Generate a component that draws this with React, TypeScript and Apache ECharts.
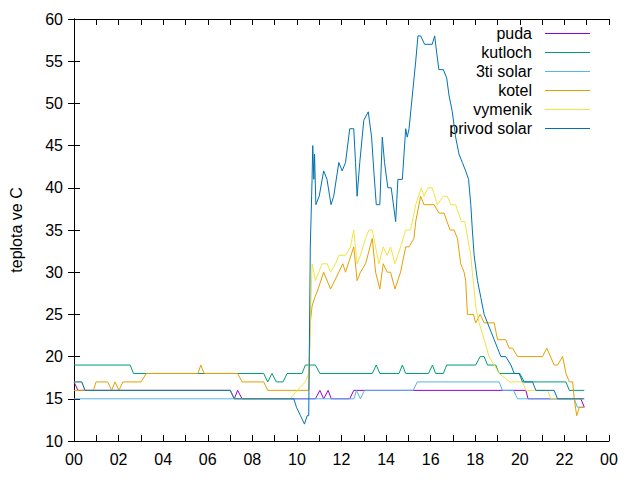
import React, { useEffect, useRef } from "react";
import * as echarts from "echarts";

// hour of day -> temperature (°C)
const puda: number[][] = [
  [0, 17], [0.18, 16], [7.01, 16], [7.19, 15], [7.34, 16], [7.54, 15], [10.83, 15], [11.03, 16], [11.2, 15],
  [11.4, 16], [11.54, 15], [12.37, 15], [12.55, 16], [20.27, 16], [20.37, 15], [22.74, 15], [22.89, 14],
];
const kutloch: number[][] = [
  [0, 19], [2.52, 19], [2.67, 18], [8.51, 18], [8.69, 17], [8.88, 18], [9.08, 17], [9.38, 17], [9.56, 18],
  [10.23, 18], [10.38, 19], [10.83, 19], [11.03, 18], [13.38, 18], [13.56, 19], [13.72, 18], [14.58, 18],
  [14.73, 19], [14.88, 18], [15.9, 18], [16.08, 19], [16.22, 18], [16.57, 18], [16.72, 19], [18.02, 19],
  [18.22, 20], [18.4, 20], [18.55, 19], [18.92, 19], [19.07, 18], [20.0, 18], [20.2, 17], [22.07, 17],
  [22.22, 16], [22.89, 16],
];
const tretiSolar: number[][] = [
  [0, 15], [12.56, 15], [12.67, 16], [12.85, 15], [13.03, 16], [15.22, 16], [15.4, 17], [19.07, 17],
  [19.22, 16], [19.71, 16], [19.9, 15], [22.44, 15], [22.58, 14], [22.89, 14],
];
const kotel: number[][] = [
  [0, 16], [0.87, 16], [0.99, 17], [1.51, 17], [1.69, 16], [1.84, 17], [2.02, 16], [2.19, 17], [3.01, 17],
  [3.24, 18], [5.56, 18], [5.69, 19], [5.84, 18], [7.34, 18], [7.54, 17], [8.51, 17], [8.69, 16], [10.53, 16],
  [10.6, 24], [10.68, 26], [10.8, 27], [10.95, 28], [11.2, 30], [11.51, 28], [12.06, 31], [12.18, 30],
  [12.55, 33], [12.7, 29], [12.85, 30], [13.08, 31], [13.38, 34], [13.53, 30], [13.72, 28], [13.87, 31],
  [14.05, 30], [14.2, 30], [14.4, 28], [14.65, 30], [14.88, 33], [15.03, 33], [15.25, 34], [15.33, 36],
  [15.55, 39], [15.7, 38], [16.15, 38], [16.37, 37], [16.6, 37], [16.87, 35], [17.05, 35], [17.2, 34],
  [17.35, 31], [17.5, 30], [17.57, 29], [17.65, 25], [17.92, 25], [18.02, 24], [18.22, 25], [18.4, 24],
  [18.85, 24], [19.0, 22], [19.37, 22], [19.52, 21], [19.67, 21], [19.9, 20], [21.02, 20], [21.21, 21],
  [21.54, 19], [21.69, 19], [21.92, 20], [22.07, 18], [22.22, 17], [22.37, 17], [22.44, 15], [22.55, 13],
  [22.67, 14], [22.89, 14],
];
const vymenik: number[][] = [
  [0, 17], [0.35, 17], [0.49, 16], [7.01, 16], [7.19, 15], [9.71, 15], [10.01, 16], [10.38, 17], [10.53, 18],
  [10.6, 24], [10.68, 31], [10.83, 29], [10.98, 30], [11.13, 31], [11.36, 31], [11.51, 30], [11.73, 31],
  [11.88, 32], [12.18, 32], [12.4, 33], [12.55, 35], [12.7, 31], [12.85, 32], [13.08, 34], [13.23, 35],
  [13.38, 35], [13.53, 33], [13.68, 31], [13.87, 33], [14.05, 32], [14.2, 33], [14.4, 31], [14.65, 33],
  [14.88, 35], [15.1, 35], [15.33, 38], [15.58, 40], [15.7, 39], [15.88, 40], [16.07, 40], [16.3, 38],
  [16.57, 39], [16.75, 39], [16.9, 38], [17.12, 38], [17.38, 36], [17.53, 36], [17.8, 32], [17.87, 30],
  [18.02, 26], [18.17, 24], [18.4, 22], [18.62, 20], [18.85, 19], [19.07, 18], [19.56, 17], [20.12, 17],
  [20.27, 16], [21.24, 16], [21.39, 15], [22.89, 15],
];
const privodSolar: number[][] = [
  [0, 17], [0.35, 17], [0.49, 16], [7.01, 16], [7.19, 15], [9.86, 15], [9.98, 14], [10.16, 13], [10.34, 12],
  [10.46, 13], [10.53, 13], [10.6, 33], [10.68, 41], [10.71, 45], [10.76, 41], [10.79, 44], [10.85, 38],
  [11.0, 39], [11.2, 42], [11.35, 41], [11.53, 38], [11.65, 39], [11.88, 43], [12.03, 42], [12.18, 43],
  [12.37, 47], [12.55, 47], [12.63, 43], [12.7, 39], [12.82, 43], [13.0, 48], [13.2, 49], [13.35, 46],
  [13.45, 42], [13.56, 38], [13.72, 38], [13.83, 46], [13.93, 43], [14.08, 40], [14.23, 40], [14.43, 36],
  [14.53, 41], [14.73, 41], [14.88, 47], [14.95, 46], [15.03, 47], [15.18, 51], [15.33, 55], [15.43, 58],
  [15.55, 58], [15.73, 57], [16.07, 57], [16.18, 58], [16.27, 56], [16.37, 54], [16.57, 54], [16.72, 53],
  [16.82, 51], [16.97, 49], [17.12, 46], [17.27, 44], [17.42, 43], [17.57, 42], [17.7, 41], [17.8, 38],
  [17.87, 35], [17.95, 32], [18.1, 29], [18.25, 27], [18.4, 25], [18.55, 24], [18.7, 23], [18.85, 22],
  [19.0, 21], [19.15, 20], [19.37, 20], [19.6, 19], [19.75, 18], [19.97, 18], [20.12, 17], [20.57, 17],
  [20.72, 16], [21.54, 16], [21.69, 15], [22.89, 15],
];

const seriesNames = ["puda", "kutloch", "3ti solar", "kotel", "vymenik", "privod solar"];
const seriesColors = ["#9400D3", "#009E73", "#56B4E9", "#E69F00", "#F0E442", "#0072B2"];
const seriesData = [puda, kutloch, tretiSolar, kotel, vymenik, privodSolar];

const yLabel = "teplota ve C";
const FONT = "'Liberation Sans', Arial, sans-serif";

export default function App() {
  const ref = useRef<HTMLDivElement>(null);
  useEffect(() => {
    if (!ref.current) return;
    const chart = echarts.init(ref.current, undefined, { renderer: "svg" });
    const fmt = (v: number) => (v % 2 === 0 ? String(v % 24).padStart(2, "0") : "");
    const axisCommon = {
      axisLine: { show: true, lineStyle: { color: "#000", width: 1 } },
      axisTick: { show: true, inside: true, length: 6, lineStyle: { color: "#000" } },
      splitLine: { show: false },
    };
    const legendGraphics: any[] = [];
    seriesNames.forEach((n, i) => {
      const y = 33 + i * 19;
      legendGraphics.push({
        type: "text",
        x: 532,
        y,
        style: { text: n, fill: "#000", font: `16px ${FONT}`, textAlign: "right", textVerticalAlign: "middle" },
      });
      legendGraphics.push({
        type: "line",
        shape: { x1: 545, y1: y + 0.5, x2: 590, y2: y + 0.5 },
        style: { stroke: seriesColors[i], lineWidth: 1 },
      });
    });
    chart.setOption({
      animation: false,
      backgroundColor: "#fff",
      textStyle: { fontFamily: FONT },
      grid: { left: 74, right: 31, top: 19, bottom: 39, show: false },
      xAxis: [
        {
          type: "value",
          min: 0,
          max: 24,
          interval: 1,
          position: "bottom",
          ...axisCommon,
          axisLabel: { formatter: fmt, color: "#000", fontSize: 16, margin: 10, fontFamily: FONT },
        },
        {
          type: "value",
          min: 0,
          max: 24,
          interval: 1,
          position: "top",
          ...axisCommon,
          axisLabel: { show: false },
        },
      ],
      yAxis: [
        {
          type: "value",
          min: 10,
          max: 60,
          interval: 5,
          position: "left",
          ...axisCommon,
          axisLabel: { color: "#000", fontSize: 16, margin: 11, fontFamily: FONT },
          name: yLabel,
          nameLocation: "middle",
          nameRotate: 90,
          nameGap: 50,
          nameTextStyle: { color: "#000", fontSize: 16, fontFamily: FONT },
        },
        {
          type: "value",
          min: 10,
          max: 60,
          interval: 5,
          position: "right",
          ...axisCommon,
          axisLabel: { show: false },
        },
      ],
      series: seriesData.map((d, i) => ({
        name: seriesNames[i],
        type: "line",
        data: d,
        xAxisIndex: 0,
        yAxisIndex: 0,
        showSymbol: false,
        symbol: "none",
        lineStyle: { color: seriesColors[i], width: 1 },
        itemStyle: { color: seriesColors[i] },
        emphasis: { disabled: true },
      })),
      graphic: legendGraphics,
    });
    return () => chart.dispose();
  }, []);
  return <div ref={ref} style={{ width: 640, height: 480, position: "absolute", left: 0, top: 0 }} />;
}
